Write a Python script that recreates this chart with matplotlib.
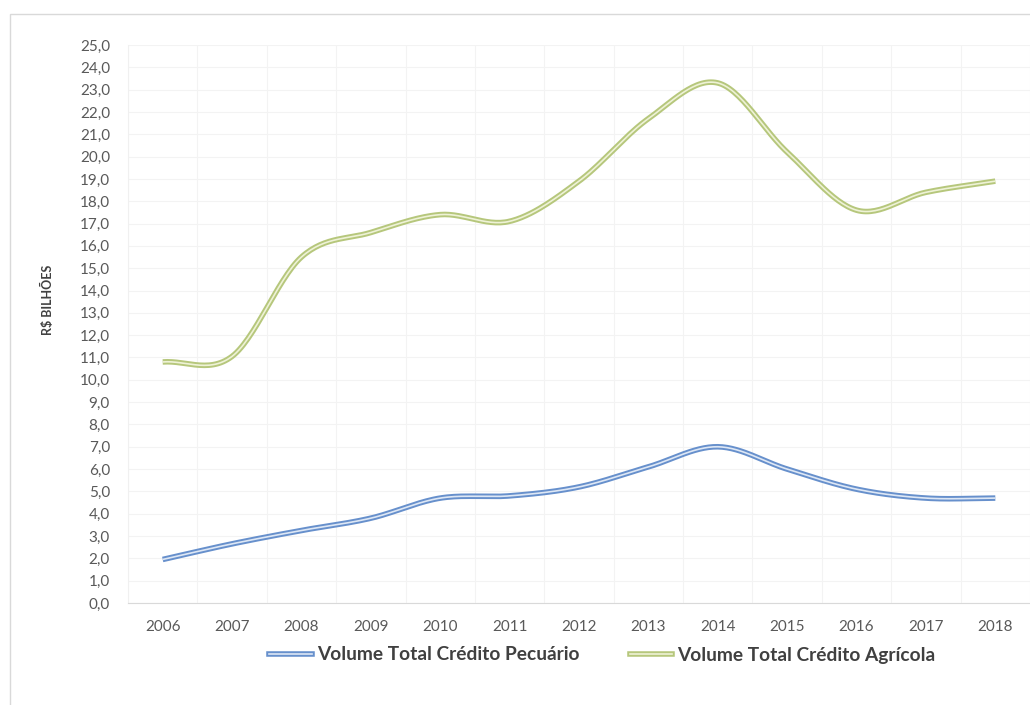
import numpy as np
import matplotlib
matplotlib.use("Agg")
import matplotlib.pyplot as plt
from matplotlib.lines import Line2D
from matplotlib.legend_handler import HandlerTuple
from matplotlib.patches import Rectangle
from matplotlib.ticker import FuncFormatter, MultipleLocator

YEARS = [2006, 2007, 2008, 2009, 2010, 2011, 2012, 2013, 2014, 2015, 2016, 2017, 2018]
PECUARIO = [1.95, 2.65, 3.25, 3.8, 4.7, 4.8, 5.2, 6.1, 7.0, 6.0, 5.1, 4.7, 4.7]
AGRICOLA = [10.8, 11.05, 15.5, 16.6, 17.4, 17.1, 18.9, 21.7, 23.3, 20.2, 17.6, 18.4, 18.9]
LABELS = ["Volume Total Crédito Pecuário", "Volume Total Crédito Agrícola"]

FONT = ["Lato", "DejaVu Sans"]
W, H = 1030, 705


def smooth(x, y, n=30):
    """Catmull-Rom curve through the points, like Excel's smoothed line."""
    x = np.asarray(x, float)
    y = np.asarray(y, float)
    px = np.concatenate([[2 * x[0] - x[1]], x, [2 * x[-1] - x[-2]]])
    py = np.concatenate([[2 * y[0] - y[1]], y, [2 * y[-1] - y[-2]]])
    xs, ys = [], []
    t = np.linspace(0, 1, n, endpoint=False)
    for i in range(1, len(px) - 2):
        for p, out in ((px, xs), (py, ys)):
            p0, p1, p2, p3 = p[i - 1], p[i], p[i + 1], p[i + 2]
            out.append(0.5 * (2 * p1 + (-p0 + p2) * t
                              + (2 * p0 - 5 * p1 + 4 * p2 - p3) * t ** 2
                              + (-p0 + 3 * p1 - 3 * p2 + p3) * t ** 3))
    xs.append([x[-1]])
    ys.append([y[-1]])
    return np.concatenate(xs), np.concatenate(ys)


fig = plt.figure(figsize=(W / 100, H / 100), dpi=100)
fig.patches.append(Rectangle((10 / W, -0.05), 1.1, (H - 14) / H + 0.05,
                             transform=fig.transFigure, fill=False,
                             edgecolor="#d9d9d9", linewidth=1.0))

left, bottom, top = 128, 603, 45
ax = fig.add_axes([left / W, (H - bottom) / H, (W - left) / W, (bottom - top) / H])

styles = [("#6790cc", "#dde7f5"), ("#b6c77c", "#eef2d6")]
handles = []
for vals, (outer, inner) in zip([PECUARIO, AGRICOLA], styles):
    sx, sy = smooth(YEARS, vals)
    ax.plot(sx, sy, color=outer, linewidth=4.0, solid_capstyle="butt", zorder=3)
    ax.plot(sx, sy, color=inner, linewidth=1.2, solid_capstyle="butt", zorder=4)
    handles.append((Line2D([], [], color=outer, linewidth=4.0),
                    Line2D([], [], color=inner, linewidth=1.2)))

ax.set_ylim(0, 25)
ax.set_xlim(2005.5, 2005.5 + (W - left) / 70)
ax.yaxis.set_major_locator(MultipleLocator(1))
ax.yaxis.set_major_formatter(FuncFormatter(lambda v, _: f"{v:.1f}".replace(".", ",")))
ax.set_xticks(YEARS)
ax.set_xticks(np.arange(2005.5, 2019, 1), minor=True)

ax.grid(axis="y", which="major", color="#f3f3f3", linewidth=0.8)
ax.grid(axis="x", which="minor", color="#f3f3f3", linewidth=0.8)
ax.set_axisbelow(True)
for side in ["top", "right"]:
    ax.spines[side].set_visible(False)
ax.spines["left"].set_color("#f0f0f0")
ax.spines["bottom"].set_color("#d9d9d9")
ax.tick_params(which="both", length=0)
ax.tick_params(axis="y", pad=13, labelsize=11, labelcolor="#595959")
ax.tick_params(axis="x", pad=12, labelsize=11, labelcolor="#595959")
for lab in ax.get_xticklabels() + ax.get_yticklabels():
    lab.set_family(FONT)

fig.text(47 / W, 1 - 300 / H, "R$ BILHÕES", rotation=90, ha="center", va="center",
         fontsize=9, fontweight="bold", color="#404040", family=FONT)

leg = fig.legend(handles, LABELS, loc="center", bbox_to_anchor=(0.585, 1 - 655 / H),
                 ncol=2, frameon=False, handler_map={tuple: HandlerTuple(ndivide=1, pad=0)},
                 handlelength=2.2, handletextpad=0.3, columnspacing=2.6,
                 prop={"family": FONT, "size": 13.8, "weight": "bold"})
for t in leg.get_texts():
    t.set_color("#404040")

fig.savefig("out.png", dpi=100)
